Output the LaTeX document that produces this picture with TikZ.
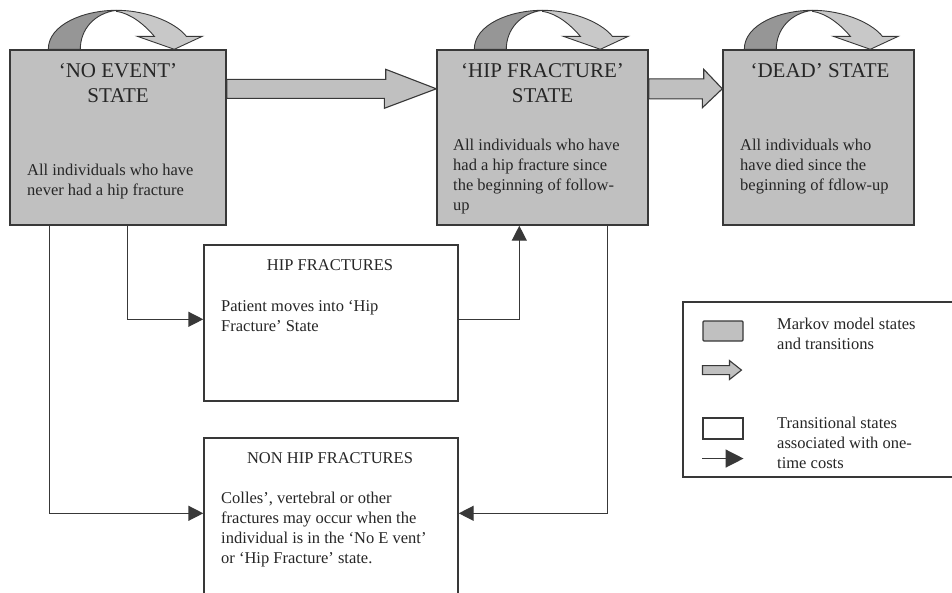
\documentclass[tikz,border=0pt]{standalone}
\usepackage{fontspec}
\setmainfont{Liberation Serif}
\usepackage{xcolor}
\usetikzlibrary{arrows.meta,positioning,calc}

\definecolor{stategray}{HTML}{C0C0C0}
\definecolor{loopdark}{HTML}{969696}
\definecolor{looplight}{HTML}{C8C8C8}
\definecolor{edgegray}{HTML}{383838}

\begin{document}
\begin{tikzpicture}[x=1pt, y=-1pt,
        markovstate/.style={rectangle, draw=edgegray, line width=1.4pt, fill=stategray, inner sep=0pt},
        transbox/.style={rectangle, draw=edgegray, line width=1.4pt, fill=white, inner sep=0pt},
        statetitle/.style={anchor=north, inner sep=0pt, align=center, text=black!85, font=\fontsize{21}{25}\selectfont},
        bodytext/.style={anchor=north west, inner sep=0pt, align=left, text=black!85, font=\fontsize{16.5}{20}\selectfont},
        conn/.style={draw=edgegray, line width=1.4pt, -{Triangle[length=15pt,width=15pt]}},
        blockarrow/.style={draw=edgegray, line width=1.1pt, fill=stategray, line join=miter},
        pics/selfarrow/.style={code={
            \path[fill=loopdark, draw=edgegray, line width=0.9pt] (0,0) .. controls (0,-25) and (36,-39) .. (68,-39)
                .. controls (46,-36) and (32,-20) .. (32,0) -- cycle;
            \path[fill=looplight, draw=edgegray, line width=0.9pt] (68,-39) .. controls (101,-39) and (129,-25) .. (138,-13)
                -- (154,-13) -- (126,0) -- (89,-13) -- (106,-13) .. controls (96,-25) and (82,-36) .. (68,-38) -- cycle;
        }}
    ]
        \useasboundingbox (0,0) rectangle (952,592);
        \clip (0,0) rectangle (952,592);

        % Markov states
        \node[markovstate, minimum width=216pt, minimum height=175pt] (noevent) at (118,137.5) {};
        \node[statetitle] (noeventtitle) at (118,63) {‘NO EVENT’\\STATE};
        \node[bodytext] (noeventtext) at (27,164) {All individuals who have\\never had a hip fracture};

        \node[markovstate, minimum width=211pt, minimum height=175pt] (hip) at (542.5,137.5) {};
        \node[statetitle] (hiptitle) at (542.5,63) {‘HIP FRACTURE’\\STATE};
        \node[bodytext] (hiptext) at (453,139) {All individuals who have\\had a hip fracture since\\the beginning of follow-\\up};

        \node[markovstate, minimum width=191pt, minimum height=175pt] (dead) at (818.5,137.5) {};
        \node[statetitle] (deadtitle) at (820,63) {‘DEAD’ STATE};
        \node[bodytext] (deadtext) at (740,139) {All individuals who\\have died since the\\beginning of fdlow-up};

        % Transitional states
        \node[transbox, minimum width=254pt, minimum height=156pt] (hipfx) at (331,323) {};
        \node[bodytext, anchor=north] (hipfxtitle) at (330,259) {HIP FRACTURES};
        \node[bodytext] (hipfxtext) at (221,300) {Patient moves into ‘Hip\\Fracture’ State};

        \node[transbox, minimum width=254pt, minimum height=170pt] (nonhip) at (331,523) {};
        \node[bodytext, anchor=north] (nonhiptitle) at (330,452) {NON HIP FRACTURES};
        \node[bodytext] (nonhiptext) at (221,492) {Colles’, vertebral or other\\fractures may occur when the\\individual is in the ‘No E vent’\\or ‘Hip Fracture’ state.};

        % Self transitions
        \pic at ($(noevent.north west)+(39,0)$) {selfarrow};
        \pic at ($(hip.north west)+(38,0)$) {selfarrow};
        \pic at ($(dead.north west)+(22,0)$) {selfarrow};

        % Markov transitions
        \draw[blockarrow] ($(noevent.north east)+(0,30)$) -- ++(159,0) -- ++(0,-10)
            -- ($(hip.north west)+(0,39.5)$) -- ++(-52,19.5) -- ++(0,-10)
            -- ($(noevent.north east)+(0,49)$) -- cycle;
        \draw[blockarrow] ($(hip.north east)+(0,29.5)$) -- ++(55,0) -- ++(0,-9.5)
            -- ($(dead.north west)+(0,39.5)$) -- ++(-20,19) -- ++(0,-9)
            -- ($(hip.north east)+(0,49.5)$) -- cycle;

        % One-time cost transitions
        \draw[conn] ($(noevent.south west)+(40,0)$) |- ($(nonhip.north west)+(0,76)$);
        \draw[conn] ($(noevent.south west)+(118,0)$) |- ($(hipfx.north west)+(0,75)$);
        \draw[conn] ($(hipfx.north east)+(0,75)$) -| ($(hip.south west)+(83,0)$);
        \draw[conn] ($(hip.south west)+(171,0)$) |- ($(nonhip.north east)+(0,76)$);

        % Legend
        \node[transbox, minimum width=300pt, minimum height=175pt] (legend) at (833,389.5) {};
        \node[markovstate, line width=1.1pt, rounded corners=1pt, minimum width=40pt, minimum height=20pt] (keystate) at (723,331) {};
        \node[bodytext] (keystatetext) at (777,318) {Markov model states\\and transitions};
        \draw[blockarrow] ($(keystate.south west)+(0,24)$) -- ++(27,0) -- ++(0,-5) -- ++(12,9.5)
            -- ++(-12,9.5) -- ++(0,-5) -- ++(-27,0) -- cycle;
        \node[transbox, line width=1.1pt, minimum width=40pt, minimum height=21pt] (keytrans) at (723,428.5) {};
        \node[bodytext] (keytranstext) at (777,417) {Transitional states\\associated with one-\\time costs};
        \coordinate (keyarrowstart) at ($(keytrans.south west)+(0,19)$);
        \coordinate (keyarrowend) at ($(keytrans.south east)+(0,19)$);
        \draw[conn, -{Triangle[length=18pt,width=18pt]}] (keyarrowstart) -- (keyarrowend);
    \end{tikzpicture}
\end{document}
